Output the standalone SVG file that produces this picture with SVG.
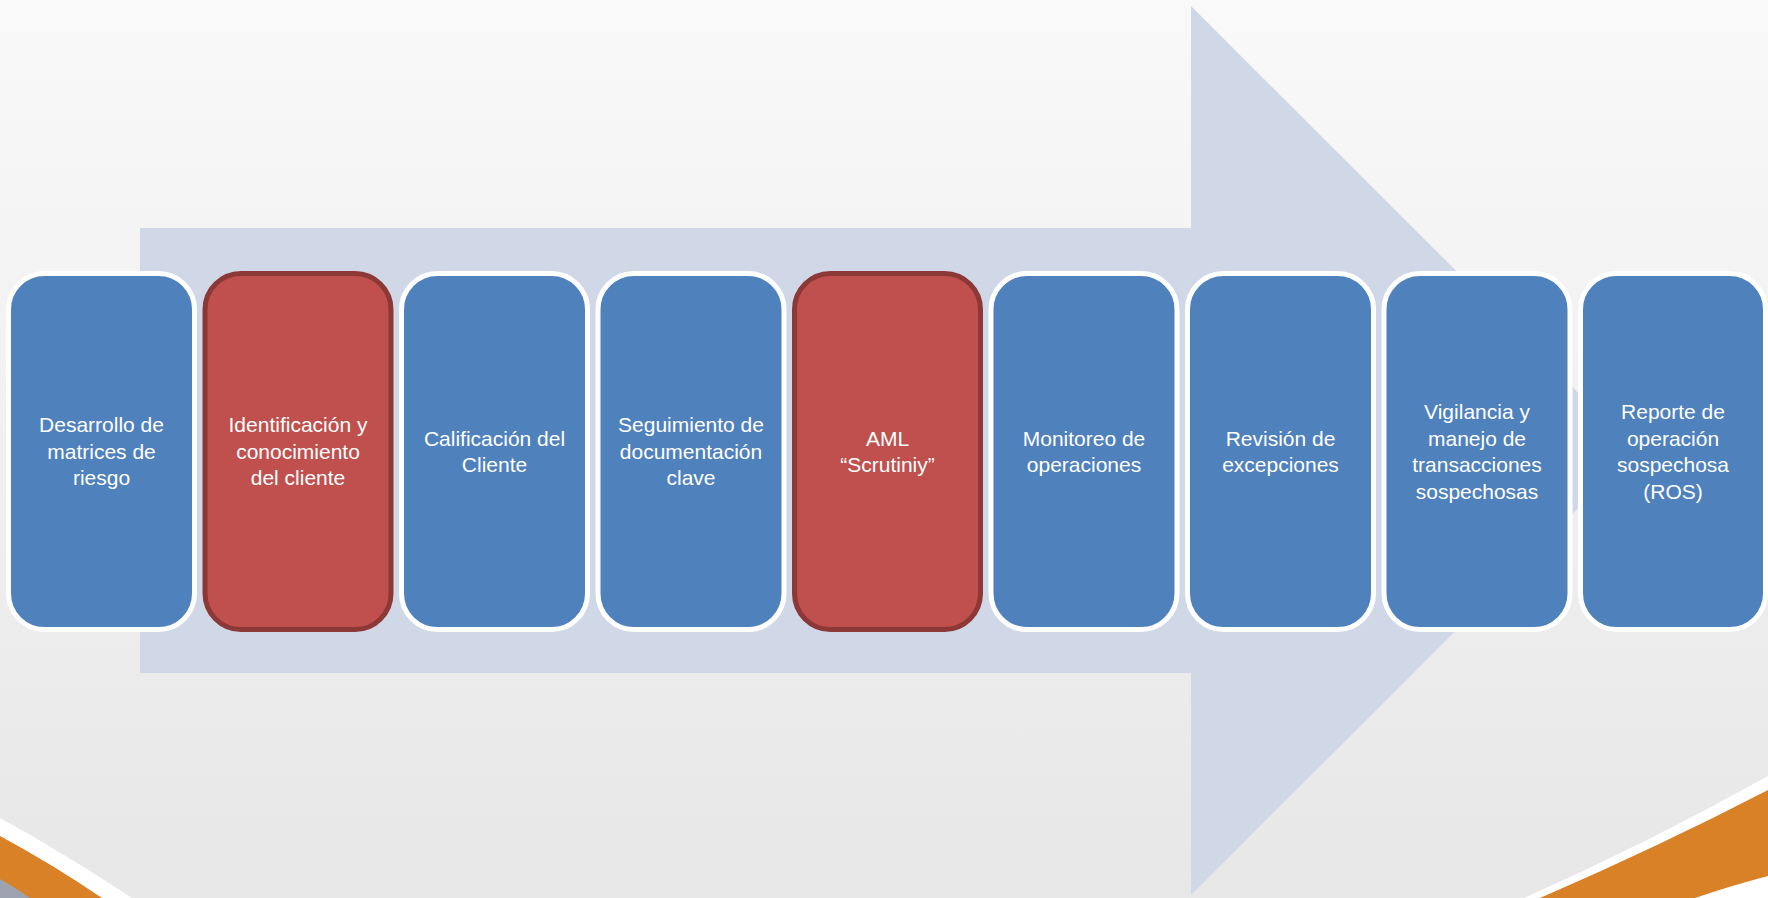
<svg xmlns="http://www.w3.org/2000/svg" width="1768" height="898" viewBox="0 0 1768 898">
<defs>
<linearGradient id="bg" x1="0" y1="0" x2="0" y2="1">
<stop offset="0" stop-color="#f9f9f9"/>
<stop offset="1" stop-color="#e7e7e8"/>
</linearGradient>
<style>
.blue{fill:#4f81bd;stroke:#ffffff;stroke-width:5}
.red{fill:#c0504d;stroke:#8c3836;stroke-width:5}
.t{font-family:"Liberation Sans",Arial,sans-serif;font-size:21px;fill:#ffffff;text-anchor:middle}
</style>
</defs>
<rect x="0" y="0" width="1768" height="898" fill="url(#bg)"/>
<g id="swooshes">
<path d="M0,818 Q62,852 132,898 L0,898 Z" fill="#ffffff"/>
<path d="M0,836 Q52,864 102,898 L0,898 Z" fill="#d98126"/>
<path d="M0,879 Q16,888 30,898 L0,898 Z" fill="#9da3b0"/>
<path d="M1524,898 Q1650,842 1768,776 L1768,898 Z" fill="#ffffff"/>
<path d="M1540,898 Q1660,846 1768,790 L1768,876 Q1730,886 1695,898 Z" fill="#d98126"/>
</g>
<g id="arrow">
<path d="M140,228 L1191,228 L1191,6 L1636,450.5 L1191,895 L1191,673 L140,673 Z" fill="#d0d8e8"/>
</g>
<g id="connectors"></g>
<g id="n1"><rect class="blue" x="8.5" y="273.5" width="186" height="356" rx="36"/>
<text class="t" x="101.5"><tspan x="101.5" y="432">Desarrollo de</tspan><tspan x="101.5" y="458.7">matrices de</tspan><tspan x="101.5" y="485.4">riesgo</tspan></text></g>
<g id="n2"><rect class="red" x="205" y="273.5" width="186" height="356" rx="36"/>
<text class="t"><tspan x="298" y="432">Identificación y</tspan><tspan x="298" y="458.7">conocimiento</tspan><tspan x="298" y="485.4">del cliente</tspan></text></g>
<g id="n3"><rect class="blue" x="401.5" y="273.5" width="186" height="356" rx="36"/>
<text class="t"><tspan x="494.5" y="445.6">Calificación del</tspan><tspan x="494.5" y="472.3">Cliente</tspan></text></g>
<g id="n4"><rect class="blue" x="598" y="273.5" width="186" height="356" rx="36"/>
<text class="t"><tspan x="691" y="432">Seguimiento de</tspan><tspan x="691" y="458.7">documentación</tspan><tspan x="691" y="485.4">clave</tspan></text></g>
<g id="n5"><rect class="red" x="794.5" y="273.5" width="186" height="356" rx="36"/>
<text class="t"><tspan x="887.5" y="445.6">AML</tspan><tspan x="887.5" y="472.3">“Scrutiniy”</tspan></text></g>
<g id="n6"><rect class="blue" x="991" y="273.5" width="186" height="356" rx="36"/>
<text class="t"><tspan x="1084" y="445.6">Monitoreo de</tspan><tspan x="1084" y="472.3">operaciones</tspan></text></g>
<g id="n7"><rect class="blue" x="1187.5" y="273.5" width="186" height="356" rx="36"/>
<text class="t"><tspan x="1280.5" y="445.6">Revisión de</tspan><tspan x="1280.5" y="472.3">excepciones</tspan></text></g>
<g id="n8"><rect class="blue" x="1384" y="273.5" width="186" height="356" rx="36"/>
<text class="t"><tspan x="1477" y="419">Vigilancia y</tspan><tspan x="1477" y="445.6">manejo de</tspan><tspan x="1477" y="472.3">transacciones</tspan><tspan x="1477" y="499">sospechosas</tspan></text></g>
<g id="n9"><rect class="blue" x="1580.5" y="273.5" width="185" height="356" rx="36"/>
<text class="t"><tspan x="1673" y="419">Reporte de</tspan><tspan x="1673" y="445.6">operación</tspan><tspan x="1673" y="472.3">sospechosa</tspan><tspan x="1673" y="499">(ROS)</tspan></text></g>
</svg>
